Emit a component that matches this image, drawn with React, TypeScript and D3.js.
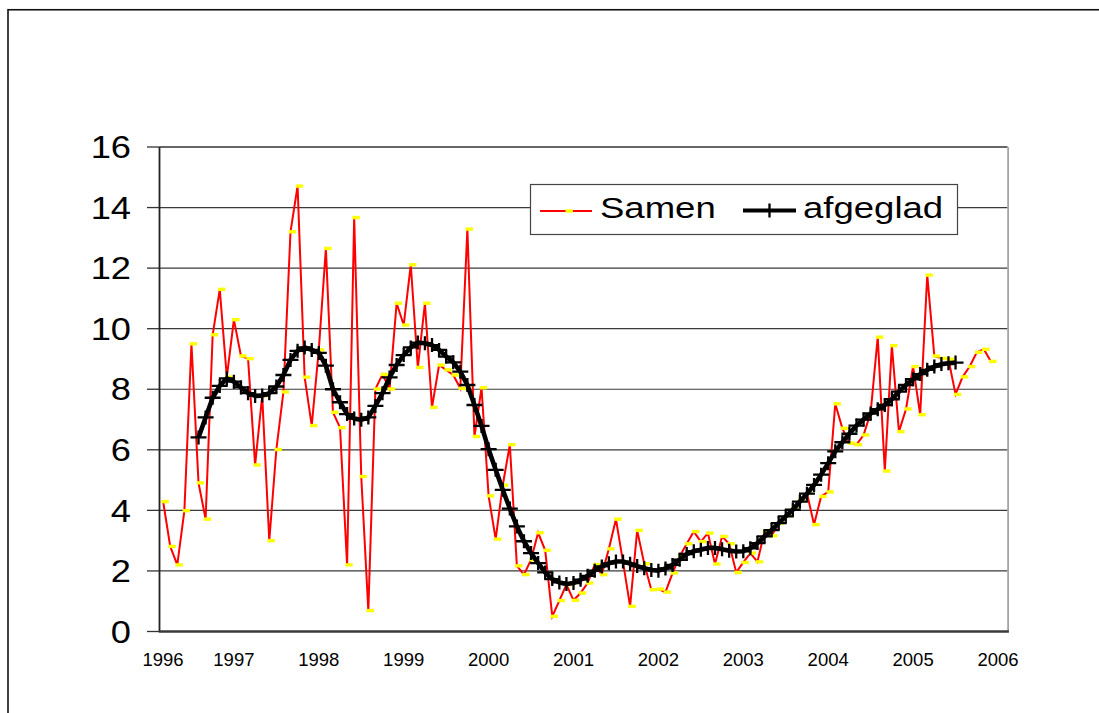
import React, { useEffect, useRef } from "react";
import * as d3 from "d3";

// year labels on the category axis
const yearLabels = ["1996", "1997", "1998", "1999", "2000", "2001", "2002", "2003", "2004", "2005", "2006"];
const yTicks = [0, 2, 4, 6, 8, 10, 12, 14, 16];

// monthly series, "Samen" starts March 1996 (month 2 counted from Jan 1996)
const samenStart = 2;
const samen = [
  4.29, 2.81, 2.2, 3.99, 9.5, 4.91, 3.71, 9.8, 11.3, 8.4,
  10.3, 9.1, 9.01, 5.5, 7.79, 3.0, 6.01, 7.91, 13.2, 14.71,
  8.4, 6.8, 9.3, 12.65, 7.24, 6.73, 2.2, 13.67, 5.12, 0.69,
  8.01, 8.49, 8.01, 10.84, 10.12, 12.11, 8.72, 10.84, 7.4, 8.8,
  8.64, 8.47, 8.03, 13.29, 6.44, 8.05, 4.48, 3.05, 4.83, 6.17,
  2.17, 1.88, 2.37, 3.26, 2.68, 0.5, 1.02, 1.55, 1.03, 1.27,
  1.6, 2.21, 1.88, 2.73, 3.71, 2.3, 0.83, 3.34, 2.24, 1.38,
  1.4, 1.3, 1.93, 2.48, 2.9, 3.3, 2.97, 3.25, 2.23, 3.14,
  2.9, 1.95, 2.28, 2.59, 2.3, 3.31, 3.16, 3.58, 3.82, 4.08,
  4.35, 4.57, 3.53, 4.46, 4.61, 7.52, 6.71, 6.22, 6.17, 6.49,
  7.23, 9.72, 5.3, 9.44, 6.6, 7.35, 8.75, 7.16, 11.77, 9.1,
  9.02, 8.99, 7.83, 8.41, 8.75, 9.22, 9.32, 8.92,
];

// smoothed series, starts August 1996
const afgegladStart = 7;
const afgeglad = [
  6.41, 7.07, 7.72, 8.11, 8.36, 8.25, 8.06, 7.87, 7.78, 7.79,
  7.87, 8.09, 8.47, 8.97, 9.27, 9.38, 9.3, 9.2, 8.78, 8.0,
  7.57, 7.18, 7.03, 6.99, 7.07, 7.45, 7.87, 8.39, 8.8, 9.13,
  9.38, 9.54, 9.52, 9.46, 9.3, 9.08, 8.89, 8.58, 8.14, 7.48,
  6.79, 6.02, 5.34, 4.68, 4.06, 3.47, 2.98, 2.59, 2.26, 1.95,
  1.73, 1.62, 1.57, 1.6, 1.71, 1.84, 2.01, 2.15, 2.25, 2.31,
  2.31, 2.24, 2.16, 2.09, 2.03, 2.01, 2.08, 2.2, 2.37, 2.56,
  2.65, 2.7, 2.76, 2.76, 2.72, 2.67, 2.64, 2.65, 2.75, 2.92,
  3.14, 3.35, 3.58, 3.8, 4.02, 4.29, 4.55, 4.84, 5.18, 5.56,
  5.95, 6.25, 6.53, 6.8, 7.0, 7.2, 7.34, 7.48, 7.67, 7.92,
  8.14, 8.33, 8.5, 8.64, 8.75, 8.83, 8.86, 8.88,
];

const FONT = "'Liberation Sans', Arial, sans-serif";

function App() {
  const ref = useRef<SVGSVGElement>(null);

  useEffect(() => {
    drawChart();
  }, []);

  function drawChart() {
    const svg = d3.select(ref.current);
    svg.selectAll("*").remove();

    const left = 159.5;
    const right = 1007.5;
    const top = 147;
    const bottom = 631.5;

    // months counted from Jan 1996
    const x = d3.scaleLinear().domain([0, 120]).range([149, 998]);
    const y = d3.scaleLinear().domain([0, 16]).range([bottom, top]);

    // chart border
    svg
      .append("rect")
      .attr("x", 8)
      .attr("y", 9.75)
      .attr("width", 1200)
      .attr("height", 900)
      .attr("fill", "none")
      .attr("stroke", "#111")
      .attr("stroke-width", 1.6);

    // gridlines
    svg
      .append("g")
      .selectAll("line")
      .data(yTicks.filter((d) => d > 0))
      .join("line")
      .attr("x1", left)
      .attr("x2", right)
      .attr("y1", (d) => y(d))
      .attr("y2", (d) => y(d))
      .attr("stroke", (d) => (d === 16 ? "#666" : "#3a3a3a"))
      .attr("stroke-width", (d) => (d === 16 ? 1.8 : 1.2));

    // right plot border
    svg
      .append("line")
      .attr("x1", right + 0.6)
      .attr("x2", right + 0.6)
      .attr("y1", top)
      .attr("y2", bottom)
      .attr("stroke", "#999")
      .attr("stroke-width", 1.6);

    // y tick marks
    svg
      .append("g")
      .selectAll("line")
      .data(yTicks)
      .join("line")
      .attr("x1", 147)
      .attr("x2", left)
      .attr("y1", (d) => y(d))
      .attr("y2", (d) => y(d))
      .attr("stroke", "#333")
      .attr("stroke-width", 1.3);

    // y labels
    svg
      .append("g")
      .selectAll("text")
      .data(yTicks)
      .join("text")
      .attr("transform", (d) => `translate(131,${y(d)}) scale(1.17,1)`)
      .attr("dy", "0.36em")
      .attr("text-anchor", "end")
      .attr("font-family", FONT)
      .attr("font-size", 31)
      .attr("fill", "#000")
      .text((d) => d);

    // x labels, first one pulled inside
    svg
      .append("g")
      .selectAll("text")
      .data(yearLabels)
      .join("text")
      .attr("x", (d, i) => (i === 0 ? 163 : x(i * 12)))
      .attr("y", 666)
      .attr("text-anchor", "middle")
      .attr("font-family", FONT)
      .attr("font-size", 18.5)
      .attr("fill", "#000")
      .text((d) => d);

    // Samen line
    const samenLine = d3
      .line<number>()
      .x((d, i) => x(samenStart + i))
      .y((d) => y(d));

    svg
      .append("path")
      .datum(samen)
      .attr("d", samenLine)
      .attr("fill", "none")
      .attr("stroke", "#ff0000")
      .attr("stroke-width", 2);

    svg
      .append("g")
      .selectAll("rect")
      .data(samen)
      .join("rect")
      .attr("x", (d, i) => x(samenStart + i) - 1.8)
      .attr("y", (d) => y(d) - 1.7)
      .attr("width", 7.4)
      .attr("height", 3.4)
      .attr("fill", "#ffff00");

    // afgeglad line
    const smoothLine = d3
      .line<number>()
      .x((d, i) => x(afgegladStart + i))
      .y((d) => y(d));

    svg
      .append("path")
      .datum(afgeglad)
      .attr("d", smoothLine)
      .attr("fill", "none")
      .attr("stroke", "#000")
      .attr("stroke-width", 4.6)
      .attr("stroke-linejoin", "round");

    svg
      .append("g")
      .selectAll("path")
      .data(afgeglad)
      .join("path")
      .attr("transform", (d, i) => `translate(${x(afgegladStart + i)},${y(d)})`)
      .attr("d", "M-8,0H8M0,-7V7")
      .attr("stroke", "#000")
      .attr("stroke-width", 2.3);

    // axes
    svg
      .append("line")
      .attr("x1", left)
      .attr("x2", left)
      .attr("y1", top)
      .attr("y2", bottom + 1)
      .attr("stroke", "#222")
      .attr("stroke-width", 1.8);

    svg
      .append("line")
      .attr("x1", left)
      .attr("x2", right + 1.4)
      .attr("y1", bottom)
      .attr("y2", bottom)
      .attr("stroke", "#3a3a3a")
      .attr("stroke-width", 2.6);

    // legend
    const legend = svg.append("g");
    legend
      .append("rect")
      .attr("x", 530.5)
      .attr("y", 184.5)
      .attr("width", 427)
      .attr("height", 50)
      .attr("fill", "#fff")
      .attr("stroke", "#444")
      .attr("stroke-width", 1.2);

    legend
      .append("line")
      .attr("x1", 540)
      .attr("x2", 592)
      .attr("y1", 211)
      .attr("y2", 211)
      .attr("stroke", "#ff0000")
      .attr("stroke-width", 2);
    legend
      .append("rect")
      .attr("x", 565.5)
      .attr("y", 209.3)
      .attr("width", 7.4)
      .attr("height", 3.4)
      .attr("fill", "#ffff00");

    legend
      .append("line")
      .attr("x1", 743)
      .attr("x2", 796)
      .attr("y1", 210.5)
      .attr("y2", 210.5)
      .attr("stroke", "#000")
      .attr("stroke-width", 4);
    legend
      .append("path")
      .attr("transform", "translate(769.5,210.5)")
      .attr("d", "M-7,0H7M0,-7V7")
      .attr("stroke", "#000")
      .attr("stroke-width", 2.3);

    legend
      .selectAll("text")
      .data([
        { label: "Samen", x: 600 },
        { label: "afgeglad", x: 803 },
      ])
      .join("text")
      .attr("transform", (d) => `translate(${d.x},217.5) scale(1.26,1)`)
      .attr("font-family", FONT)
      .attr("font-size", 29)
      .attr("fill", "#000")
      .text((d) => d.label);
  }

  return (
    <svg
      ref={ref}
      width={1099}
      height={713}
      style={{ position: "absolute", left: 0, top: 0, display: "block", background: "#fff" }}
    />
  );
}

export default App;
